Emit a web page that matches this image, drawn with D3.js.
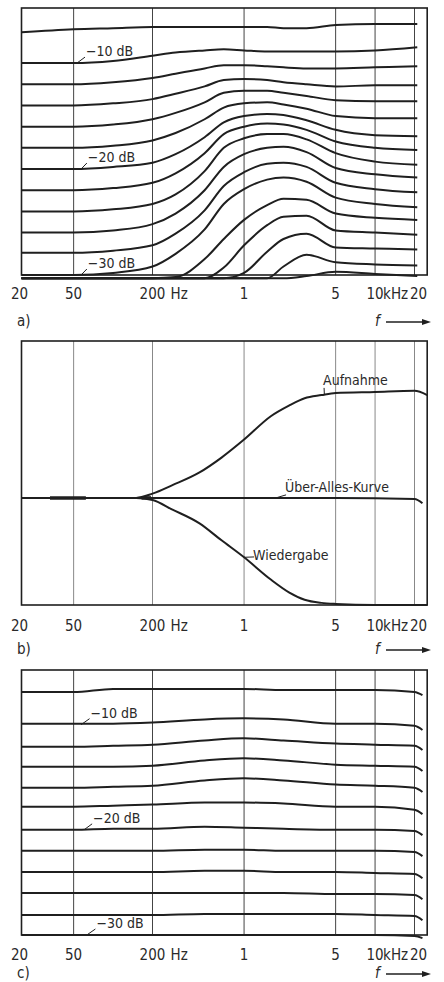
<!DOCTYPE html>
<html>
<head>
<meta charset="utf-8">
<script src="https://cdn.jsdelivr.net/npm/d3@7/dist/d3.min.js"></script>
<style>
  body { margin: 0; background: #fff; }
  svg text { font-family: "DejaVu Sans Condensed", "Liberation Sans Narrow", "DejaVu Sans", sans-serif; fill: #2a2a2a; }
</style>
</head>
<body>
<div id="canvas"></div>
<script>
// ---- data ----
const gridFreqs = [50, 200, 1000, 5000, 10000, 20000];
const tickFreqs = [20, 50, 200, 1000, 5000, 10000, 20000];
const tickTexts = ["20", "50", "200", "1", "5", "10", "20"];
const tickUnits = ["", "", "Hz", "", "", "kHz", ""];
const panelNames = ["a)", "b)", "c)"];

// panel a: recording curves at different input levels (dB)
const freqA = [20, 50, 100, 200, 300, 500, 700, 1000, 1500, 2000, 3000, 5000, 10000, 21000];
const curvesA = [
  [-7.1, -6.8, -6.7, -6.6, -6.6, -6.6, -6.6, -6.6, -6.6, -6.7, -6.7, -6.4, -6.3, -6.3],
  [-10, -10, -9.8, -9.3, -9.0, -8.8, -8.7, -8.8, -8.9, -8.9, -8.9, -8.9, -8.8, -8.5],
  [-12, -12, -11.8, -11.4, -11.0, -10.5, -10.2, -10.2, -10.3, -10.4, -10.5, -10.5, -10.4, -10.3],
  [-14, -14, -13.8, -13.4, -12.9, -12.2, -11.6, -11.5, -11.6, -11.8, -12.0, -12.2, -12.1, -12.1],
  [-16, -16, -15.8, -15.3, -14.7, -13.7, -12.8, -12.6, -12.6, -12.8, -13.1, -13.5, -13.6, -13.6],
  [-18, -18, -17.8, -17.3, -16.6, -15.3, -14.2, -13.8, -13.7, -13.9, -14.3, -15.0, -15.2, -15.2],
  [-20, -20, -19.8, -19.4, -18.6, -17.0, -15.6, -15.0, -14.8, -14.9, -15.4, -16.3, -16.8, -16.9],
  [-22, -22, -21.8, -21.3, -20.4, -18.5, -16.7, -16.0, -15.7, -15.8, -16.3, -17.4, -18.0, -18.2],
  [-24, -24, -23.8, -23.3, -22.4, -20.2, -18.0, -17.1, -16.7, -16.7, -17.2, -18.5, -19.3, -19.6],
  [-26, -26, -25.8, -25.2, -24.2, -22.0, -19.8, -18.6, -18.0, -17.9, -18.4, -19.9, -20.5, -20.8],
  [-27.9, -27.9, -27.7, -27.2, -26.1, -23.9, -21.6, -20.3, -19.5, -19.4, -19.8, -21.3, -21.9, -22.2],
  [-30, -30, -29.8, -29.2, -28.0, -25.7, -23.3, -21.9, -21.0, -20.8, -21.2, -22.7, -23.3, -23.6],
  [-30.3, -30.3, -30.3, -30.3, -30.2, -28.5, -26.6, -24.8, -23.4, -22.8, -22.9, -24.2, -24.6, -24.8],
  [-30.3, -30.3, -30.3, -30.3, -30.3, -30.3, -29.3, -27.2, -25.3, -24.5, -24.4, -25.8, -26.0, -26.2],
  [-30.3, -30.3, -30.3, -30.3, -30.3, -30.3, -30.3, -29.8, -27.8, -26.6, -26.1, -27.4, -27.5, -27.6],
  [-30.3, -30.3, -30.3, -30.3, -30.3, -30.3, -30.3, -30.3, -30.3, -29.2, -28.1, -28.8, -29.0, -29.1],
  [-30.3, -30.3, -30.3, -30.3, -30.3, -30.3, -30.3, -30.3, -30.3, -30.3, -30.1, -29.7, -29.9, -30.1]
];
const levelLabels = ["−10 dB", "−20 dB", "−30 dB"];
const levelValues = [-10, -20, -30];

// panel b: record / playback / overall
const freqB = [20, 50, 100, 150, 200, 284, 457, 673, 1000, 1600, 2200, 2900, 3900, 5000, 10000, 20000, 25000];
const aufnahme = [0, 0, 0, 0, 0.4, 1.2, 2.4, 3.8, 5.5, 7.7, 8.7, 9.4, 9.7, 9.9, 10.0, 10.1, 9.7];
const wiedergabe = [0, 0, 0, 0, -0.2, -1.1, -2.4, -4.0, -5.6, -7.7, -8.9, -9.6, -9.9, -10.0, -10.1, -10.1, -10.1];
const freqU = [20, 200, 1000, 5000, 20000, 23000];
const ueberAlles = [0, 0, 0, 0, -0.1, -0.5];
const curveNamesB = ["Aufnahme", "Über-Alles-Kurve", "Wiedergabe"];
// heavier trace spots on the 0 dB line (Hz ranges)
const thickSpans = [[33, 62], [165, 195]];

// panel c: overall curves at different levels
const freqC = [20, 50, 100, 200, 500, 1000, 2000, 5000, 10000, 20000, 23000];
const curvesC = [
  [-6.9, -6.9, -6.6, -6.6, -6.6, -6.6, -6.7, -6.7, -6.7, -6.9, -7.2],
  [-9.9, -9.9, -9.9, -9.8, -9.5, -9.4, -9.5, -9.9, -9.9, -10.1, -10.5],
  [-12.1, -12.1, -12.0, -11.9, -11.5, -11.3, -11.5, -11.8, -11.9, -12.0, -12.4],
  [-14.0, -14.0, -14.0, -13.9, -13.4, -13.2, -13.4, -13.8, -13.9, -14.0, -14.4],
  [-16.0, -16.0, -15.9, -15.8, -15.3, -15.1, -15.3, -15.7, -15.8, -16.0, -16.4],
  [-17.8, -17.8, -17.7, -17.6, -17.4, -17.4, -17.5, -17.8, -17.8, -18.1, -18.5],
  [-20.0, -20.0, -19.9, -19.9, -19.7, -19.8, -19.9, -20.0, -20.0, -20.1, -20.5],
  [-22.0, -22.0, -22.0, -22.0, -21.9, -21.9, -22.0, -22.0, -22.0, -22.1, -22.5],
  [-24.0, -24.0, -24.0, -24.0, -23.9, -23.9, -24.0, -24.0, -24.1, -24.2, -24.6],
  [-26.0, -26.0, -26.0, -26.0, -26.0, -26.0, -26.0, -26.1, -26.1, -26.2, -26.6],
  [-28.1, -28.1, -28.1, -28.1, -28.0, -28.0, -28.0, -28.0, -28.1, -28.2, -28.6],
  [-30, -30, -30, -30, -30, -30, -30, -30, -30, -30.1, -30.3]
];

// ---- drawing ----
const width = 444, height = 982;
const fEnd = 25000;
const ink = "#1f1f1f";

const svg = d3.select("#canvas").append("svg")
  .attr("width", width).attr("height", height);

const x = d3.scaleLog().domain([20, 20000]).range([21.5, 414.5]);

const layout = [
  { top: 8, bottom: 275, label: 293, name: 321 },
  { top: 341, bottom: 605, label: 625, name: 649 },
  { top: 670, bottom: 935, label: 954, name: 973 }
];

const yA = d3.scaleLinear().domain([-30, -4.8]).range([layout[0].bottom, layout[0].top]);
const yB = d3.scaleLinear().domain([-10.1, 14.8]).range([layout[1].bottom, layout[1].top]);
const yC = d3.scaleLinear().domain([-30, -4.8]).range([layout[2].bottom, layout[2].top]);

function drawFrame(p, gridStroke) {
  const g = svg.append("g");
  g.selectAll("line.grid").data(gridFreqs).enter().append("line")
    .attr("x1", d => x(d)).attr("x2", d => x(d))
    .attr("y1", p.top).attr("y2", p.bottom)
    .attr("stroke", gridStroke).attr("stroke-width", 1);
  g.append("rect")
    .attr("x", x(20)).attr("y", p.top)
    .attr("width", x(fEnd) - x(20)).attr("height", p.bottom - p.top)
    .attr("fill", "none").attr("stroke", ink).attr("stroke-width", 1.6);
  return g;
}

function drawAxis(p, i) {
  const g = svg.append("g").style("font-size", "15px");
  g.selectAll("text.tick").data(tickFreqs).enter().append("text")
    .attr("x", (d, j) => x(d) + (j === 0 ? -2 : j === 6 ? 4 : 0))
    .attr("y", p.label + 6)
    .attr("text-anchor", "middle")
    .text((d, j) => tickTexts[j]);
  g.selectAll("text.unit").data(tickFreqs.filter((d, j) => tickUnits[j])).enter().append("text")
    .attr("x", d => x(d) + (d === 200 ? 18 : 8))
    .attr("y", p.label + 6)
    .text(d => tickUnits[tickFreqs.indexOf(d)]);
  g.append("text").attr("x", 17).attr("y", p.name + 5).text(panelNames[i]);
  // f ->
  g.append("text").attr("x", 375).attr("y", p.name + 5)
    .style("font-style", "italic").text("f");
  g.append("line").attr("x1", 386).attr("x2", 424)
    .attr("y1", p.name + 1).attr("y2", p.name + 1)
    .attr("stroke", ink).attr("stroke-width", 1.3);
  g.append("path")
    .attr("d", `M${431},${p.name + 1} l-9,-3 l0,6 z`)
    .attr("fill", ink);
}

function lineGen(y) {
  return d3.line().x(d => x(d[0])).y(d => y(d[1])).curve(d3.curveMonotoneX);
}

function drawCurves(freqs, curves, y) {
  const gen = lineGen(y);
  svg.append("g").selectAll("path").data(curves).enter().append("path")
    .attr("d", c => gen(c.map((v, k) => [freqs[k], v])))
    .attr("fill", "none").attr("stroke", ink)
    .attr("stroke-width", 2).attr("stroke-linejoin", "round");
}

function drawLevelLabels(y, fLeader, fText) {
  const g = svg.append("g").style("font-size", "14px");
  levelValues.forEach((L, k) => {
    const fx = x(fText[k]);
    g.append("line")
      .attr("x1", x(fLeader[k])).attr("y1", y(L))
      .attr("x2", fx + 1).attr("y2", y(L) - 6)
      .attr("stroke", ink).attr("stroke-width", 1);
    g.append("text").attr("x", fx + 2).attr("y", y(L) - 7).text(levelLabels[k]);
  });
}

// panel a
drawFrame(layout[0], "#444");
drawCurves(freqA, curvesA, yA);
drawAxis(layout[0], 0);
drawLevelLabels(yA, [53, 57, 57], [60, 62, 62]);

// panel b
drawFrame(layout[1], "#888");
const genB = lineGen(yB);
const bSeries = [
  freqB.map((f, k) => [f, aufnahme[k]]),
  freqU.map((f, k) => [f, ueberAlles[k]]),
  freqB.map((f, k) => [f, wiedergabe[k]])
];
svg.append("g").selectAll("path").data(bSeries).enter().append("path")
  .attr("d", genB).attr("fill", "none").attr("stroke", ink).attr("stroke-width", 2);
svg.append("g").selectAll("line").data(thickSpans).enter().append("line")
  .attr("x1", d => x(d[0])).attr("x2", d => x(d[1]))
  .attr("y1", yB(0)).attr("y2", yB(0))
  .attr("stroke", ink).attr("stroke-width", 3.5);
drawAxis(layout[1], 1);
const gb = svg.append("g").style("font-size", "14px");
// [freq where leader meets curve, dB there, freq of text start, baseline dB]
const bAnchors = [[4100, 9.8, 3940, 10.66], [1750, 0, 2020, 0.57], [1000, -5.6, 1150, -5.85]];
bAnchors.forEach((a, k) => {
  gb.append("line").attr("x1", x(a[0])).attr("y1", yB(a[1]))
    .attr("x2", x(a[2]) + 2).attr("y2", yB(a[3]) + (k === 2 ? -3 : 3))
    .attr("stroke", ink).attr("stroke-width", 1);
  gb.append("text").attr("x", x(a[2]) + 1).attr("y", yB(a[3])).text(curveNamesB[k]);
});

// panel c
drawFrame(layout[2], "#444");
drawCurves(freqC, curvesC, yC);
drawAxis(layout[2], 2);
drawLevelLabels(yC, [57, 60, 63], [65, 68, 72]);
</script>
</body>
</html>
